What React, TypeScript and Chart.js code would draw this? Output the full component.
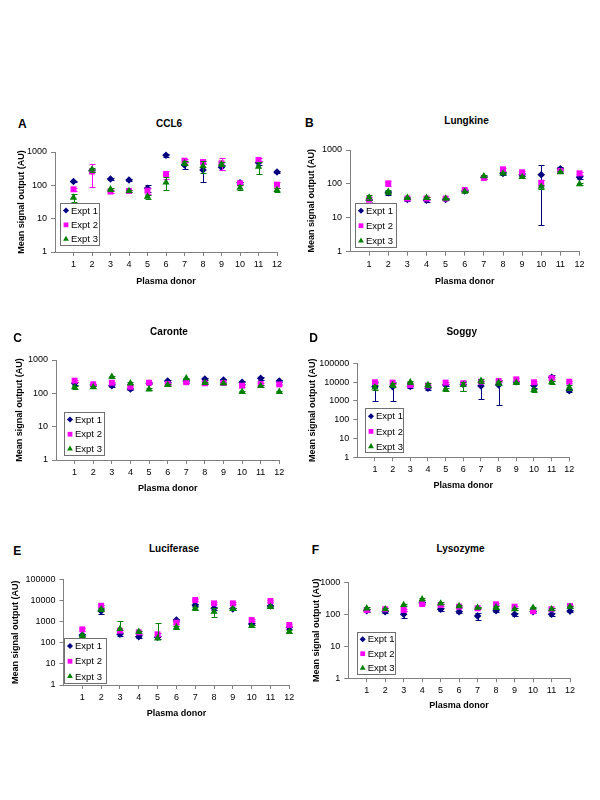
import React, { useEffect, useRef } from 'react';
import { Chart, registerables } from 'chart.js';
import { drawPoint } from 'chart.js/helpers';

Chart.register(...registerables);
Chart.defaults.font.family = "'Liberation Sans', Arial, sans-serif";
Chart.defaults.color = '#000';

// ---------- data ----------
const donors = [1, 2, 3, 4, 5, 6, 7, 8, 9, 10, 11, 12];
const seriesNames = ['Expt 1', 'Expt 2', 'Expt 3'];
const ticksTo1000 = [1, 10, 100, 1000];
const ticksTo100000 = [1, 10, 100, 1000, 10000, 100000];
const xTitle = 'Plasma donor';
const yTitle = 'Mean signal output (AU)';

// A: CCL6
const ccl6Expt1 = [130, 280, 155, 145, 82, 800, 410, 290, 350, 120, 480, 250];
const ccl6Expt1Sd = [8, 20, 10, 8, 18, 80, 105, 160, 60, 10, 60, 15];
const ccl6Expt2 = [76, 260, 65, 68, 69, 215, 550, 500, 460, 115, 580, 105];
const ccl6Expt2Sd = [10, 170, 8, 6, 15, 60, 60, 40, 180, 15, 60, 20];
const ccl6Expt3 = [43, 300, 76, 68, 46, 123, 460, 380, 430, 85, 365, 73];
const ccl6Expt3Sd = [12, 40, 10, 6, 6, 50, 60, 150, 60, 15, 150, 8];

// B: Lungkine
const lungkineExpt1 = [33, 55, 35, 33, 35, 62, 156, 205, 187, 186, 280, 156];
const lungkineExpt1Sd = [4, 8, 3, 3, 2, 4, 15, 20, 20, 180, 30, 15];
const lungkineExpt2 = [35, 104, 37, 37, 37, 66, 150, 270, 220, 108, 240, 205];
const lungkineExpt2Sd = [5, 20, 3, 3, 2, 4, 15, 30, 20, 22, 20, 20];
const lungkineExpt3 = [40, 59, 39, 39, 37, 59, 170, 205, 160, 83, 224, 99];
const lungkineExpt3Sd = [6, 8, 3, 3, 2, 3, 15, 15, 12, 12, 15, 8];

// C: Caronte
const caronteExpt1 = [200, 178, 170, 135, 200, 235, 230, 270, 250, 215, 282, 235];
const caronteExpt1Sd = [20, 15, 15, 10, 15, 20, 20, 25, 25, 20, 25, 15];
const caronteExpt2 = [240, 187, 208, 158, 208, 190, 215, 200, 205, 170, 190, 185];
const caronteExpt2Sd = [15, 10, 10, 10, 10, 10, 10, 10, 10, 10, 10, 10];
const caronteExpt3 = [152, 152, 316, 200, 132, 178, 283, 208, 200, 112, 166, 112];
const caronteExpt3Sd = [15, 12, 20, 15, 8, 10, 15, 15, 10, 8, 10, 8];

// D: Soggy
const soggyExpt1 = [5700, 5700, 5800, 4700, 7000, 7500, 6200, 7000, 10500, 6500, 18000, 3500];
const soggyExpt1Sd = [4700, 4700, 800, 700, 1000, 4000, 5000, 6400, 1500, 1500, 6000, 600];
const soggyExpt2 = [9800, 9400, 7000, 6500, 9400, 8700, 10500, 11500, 14000, 9800, 16000, 10500];
const soggyExpt2Sd = [1200, 1000, 800, 800, 1000, 1500, 1500, 1500, 2000, 1200, 2000, 1200];
const soggyExpt3 = [5300, 7000, 9800, 7000, 4100, 7000, 12000, 9400, 9400, 3800, 9800, 5300];
const soggyExpt3Sd = [1500, 1500, 2000, 1500, 800, 3500, 3000, 2000, 1200, 700, 1500, 1500];

// E: Luciferase
const luciferaseExpt1 = [233, 3150, 250, 193, 180, 1180, 6100, 4250, 4000, 770, 5450, 535];
const luciferaseExpt1Sd = [30, 950, 50, 30, 30, 150, 900, 600, 500, 100, 700, 100];
const luciferaseExpt2 = [430, 5600, 370, 310, 250, 890, 10500, 7300, 7300, 1180, 9400, 690];
const luciferaseExpt2Sd = [60, 600, 50, 40, 40, 100, 1000, 800, 700, 150, 900, 80];
const luciferaseExpt3 = [220, 3800, 445, 330, 162, 535, 4250, 2950, 4000, 620, 5000, 330];
const luciferaseExpt3Sd = [30, 600, 650, 40, 670, 80, 600, 1250, 500, 80, 600, 50];

// F: Lysozyme
const lysozymeExpt1 = [130, 121, 100, 230, 144, 121, 89, 130, 100, 121, 100, 126];
const lysozymeExpt1Sd = [12, 10, 25, 20, 15, 10, 22, 15, 12, 10, 12, 10];
const lysozymeExpt2 = [136, 144, 136, 210, 195, 173, 154, 205, 173, 126, 144, 181];
const lysozymeExpt2Sd = [10, 10, 10, 15, 15, 10, 10, 15, 10, 10, 10, 12];
const lysozymeExpt3 = [154, 144, 195, 294, 220, 181, 162, 166, 144, 162, 144, 173];
const lysozymeExpt3Sd = [12, 12, 15, 20, 15, 12, 10, 15, 12, 10, 12, 12];

// ---------- styles / layout ----------
const seriesColors = ['#000080', '#FF00FF', '#008000'];
const seriesStyles = ['rectRot', 'rect', 'triangle'];
const seriesRadius = [3.8, 4.2, 4.2];
const axisColor = '#808080';
const FONT = "'Liberation Sans', Arial, sans-serif";

type Layout = {
  col: number;
  area: { l: number; r: number; t: number; b: number };
  yTitleX: number;
  xTitleY: number;
  titlePos: { x: number; y: number };
  letterPos: { x: number; y: number };
  legend: { dx: number; dy: number; w: number; h: number };
};

type PanelSpec = {
  letter: string;
  title: string;
  yTicks: number[];
  series: number[][];
  errors: number[][];
  layout: Layout;
};

const panels: PanelSpec[] = [
  {
    letter: 'A', title: 'CCL6', yTicks: ticksTo1000,
    series: [ccl6Expt1, ccl6Expt2, ccl6Expt3], errors: [ccl6Expt1Sd, ccl6Expt2Sd, ccl6Expt3Sd],
    layout: { col: 0, area: { l: 55, r: 277, t: 152, b: 252 }, yTitleX: 21.7, xTitleY: 281.5,
      titlePos: { x: 169, y: 124 }, letterPos: { x: 18, y: 124 }, legend: { dx: 5, dy: 7, w: 39, h: 42 } },
  },
  {
    letter: 'B', title: 'Lungkine', yTicks: ticksTo1000,
    series: [lungkineExpt1, lungkineExpt2, lungkineExpt3], errors: [lungkineExpt1Sd, lungkineExpt2Sd, lungkineExpt3Sd],
    layout: { col: 1, area: { l: 350, r: 579.5, t: 150, b: 251.7 }, yTitleX: 311.7, xTitleY: 281.7,
      titlePos: { x: 466.5, y: 121 }, letterPos: { x: 305, y: 122.5 }, legend: { dx: 5, dy: 4.7, w: 41, h: 44.3 } },
  },
  {
    letter: 'C', title: 'Caronte', yTicks: ticksTo1000,
    series: [caronteExpt1, caronteExpt2, caronteExpt3], errors: [caronteExpt1Sd, caronteExpt2Sd, caronteExpt3Sd],
    layout: { col: 0, area: { l: 56, r: 279.3, t: 360, b: 460 }, yTitleX: 20, xTitleY: 488.3,
      titlePos: { x: 169, y: 331.5 }, letterPos: { x: 13.3, y: 338 }, legend: { dx: 8, dy: 5, w: 40, h: 43.3 } },
  },
  {
    letter: 'D', title: 'Soggy', yTicks: ticksTo100000,
    series: [soggyExpt1, soggyExpt2, soggyExpt3], errors: [soggyExpt1Sd, soggyExpt2Sd, soggyExpt3Sd],
    layout: { col: 1, area: { l: 357.3, r: 569.3, t: 363.3, b: 457.3 }, yTitleX: 312.7, xTitleY: 485.7,
      titlePos: { x: 461.7, y: 331.5 }, letterPos: { x: 309.3, y: 337.5 }, legend: { dx: 7.7, dy: 4.6, w: 38.3, h: 44.4 } },
  },
  {
    letter: 'E', title: 'Luciferase', yTicks: ticksTo100000,
    series: [luciferaseExpt1, luciferaseExpt2, luciferaseExpt3], errors: [luciferaseExpt1Sd, luciferaseExpt2Sd, luciferaseExpt3Sd],
    layout: { col: 0, area: { l: 63.5, r: 289.3, t: 579.3, b: 685 }, yTitleX: 16, xTitleY: 714,
      titlePos: { x: 174, y: 549 }, letterPos: { x: 13.3, y: 551 }, legend: { dx: 0.5, dy: 2.3, w: 42, h: 44.7 } },
  },
  {
    letter: 'F', title: 'Lysozyme', yTicks: ticksTo1000,
    series: [lysozymeExpt1, lysozymeExpt2, lysozymeExpt3], errors: [lysozymeExpt1Sd, lysozymeExpt2Sd, lysozymeExpt3Sd],
    layout: { col: 1, area: { l: 348.2, r: 570, t: 582.3, b: 678.3 }, yTitleX: 317, xTitleY: 705.7,
      titlePos: { x: 460.5, y: 549 }, letterPos: { x: 311.7, y: 550 }, legend: { dx: 8.5, dy: 4.3, w: 38.3, h: 42.3 } },
  },
];

// ---------- plugins ----------
// Error bars: value ± SD; like Excel on a log axis, a lower bar that would reach <= 0 is omitted.
const errorBarPlugin = {
  id: 'errorBars',
  beforeDatasetDraw(chart: any, args: any) {
    const ds = chart.data.datasets[args.index];
    const errs: number[] | undefined = ds.errors;
    if (!errs) return;
    const xs = chart.scales.x;
    const ys = chart.scales.y;
    const ctx = chart.ctx;
    ctx.save();
    ctx.strokeStyle = ds.borderColor;
    ctx.lineWidth = 1;
    ds.data.forEach((p: any, i: number) => {
      const e = errs[i];
      if (!e) return;
      const x = Math.round(xs.getPixelForValue(p.x)) + 0.5;
      const yMid = ys.getPixelForValue(p.y);
      const yHi = Math.round(ys.getPixelForValue(p.y + e)) + 0.5;
      const lo = p.y - e;
      const hasLo = lo > 0;
      const yLo = hasLo ? Math.round(ys.getPixelForValue(Math.max(lo, ys.min))) + 0.5 : yMid;
      ctx.beginPath();
      ctx.moveTo(x, yHi);
      ctx.lineTo(x, yLo);
      ctx.moveTo(x - 3, yHi);
      ctx.lineTo(x + 3, yHi);
      if (hasLo && lo > ys.min) {
        ctx.moveTo(x - 3, yLo);
        ctx.lineTo(x + 3, yLo);
      }
      ctx.stroke();
    });
    ctx.restore();
  },
};

const boxLegendPlugin = {
  id: 'boxLegend',
  afterDraw(chart: any, _args: any, opts: any) {
    const ca = chart.chartArea;
    const ctx = chart.ctx;
    const left = ca.left + opts.dx;
    const top = ca.bottom - opts.dy - opts.h;
    ctx.save();
    ctx.fillStyle = '#fff';
    ctx.fillRect(left, top, opts.w, opts.h);
    ctx.strokeStyle = '#707070';
    ctx.lineWidth = 1;
    ctx.strokeRect(Math.round(left) + 0.5, Math.round(top) + 0.5, Math.round(opts.w), Math.round(opts.h));
    const fr = [0.18, 0.52, 0.86];
    chart.data.datasets.forEach((ds: any, k: number) => {
      const cy = top + opts.h * fr[k];
      ctx.fillStyle = ds.backgroundColor;
      drawPoint(ctx, { pointStyle: ds.pointStyle, radius: ds.pointRadius * 0.8, rotation: 0, borderWidth: 0 } as any, left + 6, cy);
      ctx.fillStyle = '#000';
      ctx.font = `9.5px ${FONT}`;
      ctx.textBaseline = 'middle';
      ctx.textAlign = 'left';
      ctx.fillText(ds.label, left + 11, cy + 0.5);
    });
    ctx.restore();
  },
};

// ---------- components ----------
function Panel({ spec }: { spec: PanelSpec }) {
  const ref = useRef<HTMLCanvasElement | null>(null);
  const L = spec.layout;
  const colX = L.col * 300;
  const canvasTop = Math.floor(L.area.t - 20);
  const padTop = L.area.t - canvasTop;
  const xScaleH = L.xTitleY - L.area.b + 9.4;
  const canvasH = Math.ceil(L.area.b - canvasTop + xScaleH + 4);
  const padBottom = canvasH - (L.area.b - canvasTop) - xScaleH;
  const padLeft = L.yTitleX - colX - 9.4;
  const yScaleW = L.area.l - colX - padLeft;
  const padRight = colX + 300 - L.area.r;

  useEffect(() => {
    if (!ref.current) return;
    const chart = new Chart(ref.current, {
      type: 'scatter',
      data: {
        datasets: spec.series.map((vals, k) => ({
          label: seriesNames[k],
          data: donors.map((d, i) => ({ x: d, y: vals[i] })),
          errors: spec.errors[k],
          showLine: false,
          clip: false,
          pointStyle: seriesStyles[k],
          pointRadius: seriesRadius[k],
          pointHoverRadius: seriesRadius[k],
          backgroundColor: seriesColors[k],
          borderColor: seriesColors[k],
          borderWidth: 0,
          order: 2 - k,
        })) as any,
      },
      options: {
        animation: false,
        responsive: false,
        maintainAspectRatio: false,
        layout: { padding: { left: padLeft, right: padRight, top: padTop, bottom: padBottom } },
        plugins: {
          legend: { display: false },
          tooltip: { enabled: false },
          boxLegend: L.legend,
        } as any,
        scales: {
          x: {
            type: 'linear',
            min: 0,
            max: 12,
            afterBuildTicks: (s: any) => { s.ticks = donors.map((v) => ({ value: v })); },
            afterFit: (s: any) => { s.height = xScaleH; },
            grid: { drawOnChartArea: false, drawTicks: true, tickLength: 4, color: axisColor },
            border: { color: axisColor, width: 1 },
            ticks: { padding: 3, color: '#000', font: { size: 9 }, autoSkip: false, maxRotation: 0, callback: (v: any) => String(v) },
            title: { display: true, text: xTitle, color: '#000', font: { size: 9, weight: 'bold' }, padding: { top: 4, bottom: 4 } },
          },
          y: {
            type: 'logarithmic',
            min: spec.yTicks[0],
            max: spec.yTicks[spec.yTicks.length - 1],
            afterBuildTicks: (s: any) => { s.ticks = spec.yTicks.map((v) => ({ value: v })); },
            afterFit: (s: any) => { s.width = yScaleW; },
            grid: { drawOnChartArea: false, drawTicks: true, tickLength: 4, color: axisColor },
            border: { color: axisColor, width: 1 },
            ticks: { padding: 4, color: '#000', font: { size: 9 }, autoSkip: false, callback: (v: any) => String(v) },
            title: { display: true, text: yTitle, color: '#000', font: { size: 9, weight: 'bold' }, padding: { top: 4, bottom: 4 } },
          },
        },
      } as any,
      plugins: [errorBarPlugin, boxLegendPlugin],
    });
    return () => chart.destroy();
  }, []);

  return (
    <>
      <canvas
        ref={ref}
        width={300}
        height={canvasH}
        style={{ position: 'absolute', left: colX, top: canvasTop, width: 300, height: canvasH }}
      />
      <div
        style={{
          position: 'absolute', left: L.letterPos.x, top: L.letterPos.y, transform: 'translateY(-50%)',
          font: `bold 12px ${FONT}`, lineHeight: 1, color: '#000', whiteSpace: 'nowrap',
        }}
      >
        {spec.letter}
      </div>
      <div
        style={{
          position: 'absolute', left: L.titlePos.x, top: L.titlePos.y, transform: 'translate(-50%, -50%)',
          font: `bold 10px ${FONT}`, lineHeight: 1, color: '#000', whiteSpace: 'nowrap',
        }}
      >
        {spec.title}
      </div>
    </>
  );
}

export default function App() {
  return (
    <div style={{ position: 'absolute', left: 0, top: 0, width: 600, height: 800, background: '#fff' }}>
      {panels.map((p) => (
        <Panel key={p.letter} spec={p} />
      ))}
    </div>
  );
}
